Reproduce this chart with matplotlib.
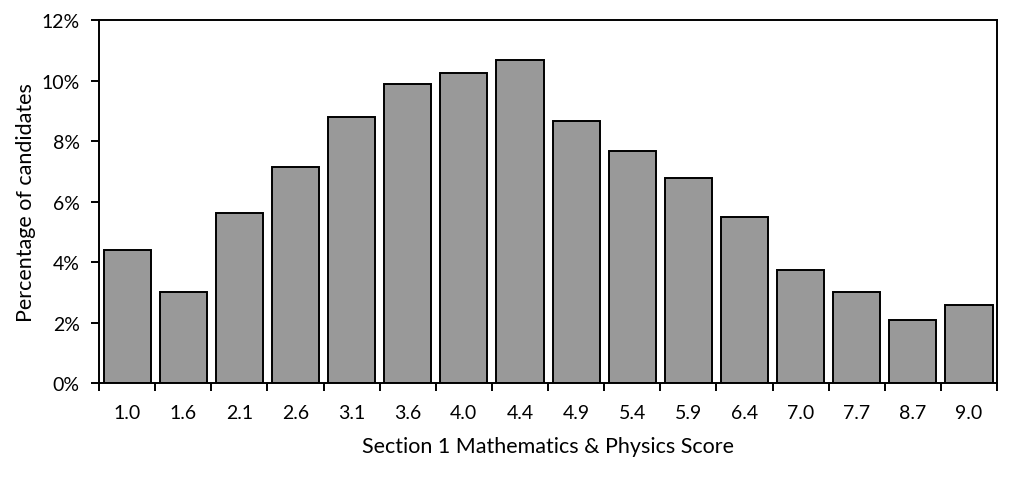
import matplotlib.pyplot as plt
import numpy as np
from matplotlib.ticker import FixedLocator, FuncFormatter

scores = ['1.0', '1.6', '2.1', '2.6', '3.1', '3.6', '4.0', '4.4',
          '4.9', '5.4', '5.9', '6.4', '7.0', '7.7', '8.7', '9.0']
percent = [4.4, 3.0, 5.63, 7.15, 8.78, 9.88, 10.25, 10.68,
           8.67, 7.68, 6.77, 5.48, 3.75, 3.0, 2.08, 2.57]

plt.rcParams['font.family'] = ['Lato', 'DejaVu Sans']

fig = plt.figure(figsize=(10.24, 5.02), dpi=100)
ax = fig.add_axes([0.0967, 0.235, 0.877, 0.723])

x = np.arange(len(scores))
ax.bar(x, percent, width=0.84, color='#999999', edgecolor='black', linewidth=1.4)

ax.set_xlim(-0.5, len(scores) - 0.5)
ax.set_ylim(0, 12)
ax.set_yticks(range(0, 13, 2))
ax.yaxis.set_major_formatter(FuncFormatter(lambda v, p: f'{int(v)}%'))

# ticks at category boundaries, labels at centres
ax.xaxis.set_major_locator(FixedLocator(np.arange(-0.5, len(scores), 1.0)))
ax.xaxis.set_major_formatter(FuncFormatter(lambda v, p: ''))
ax.xaxis.set_minor_locator(FixedLocator(x))
ax.set_xticklabels(scores, minor=True)
ax.tick_params(axis='x', which='minor', length=0, pad=15, labelsize=14)
ax.tick_params(axis='x', which='major', length=6, width=1.4, direction='out')
ax.tick_params(axis='y', length=6, width=1.4, direction='out', labelsize=14, pad=8)

for s in ax.spines.values():
    s.set_linewidth(1.4)

ax.set_xlabel('Section 1 Mathematics & Physics Score', fontsize=15.5, labelpad=11)
ax.set_ylabel('Percentage of candidates', fontsize=15.5, labelpad=4)

fig.savefig('out.png', dpi=100)
